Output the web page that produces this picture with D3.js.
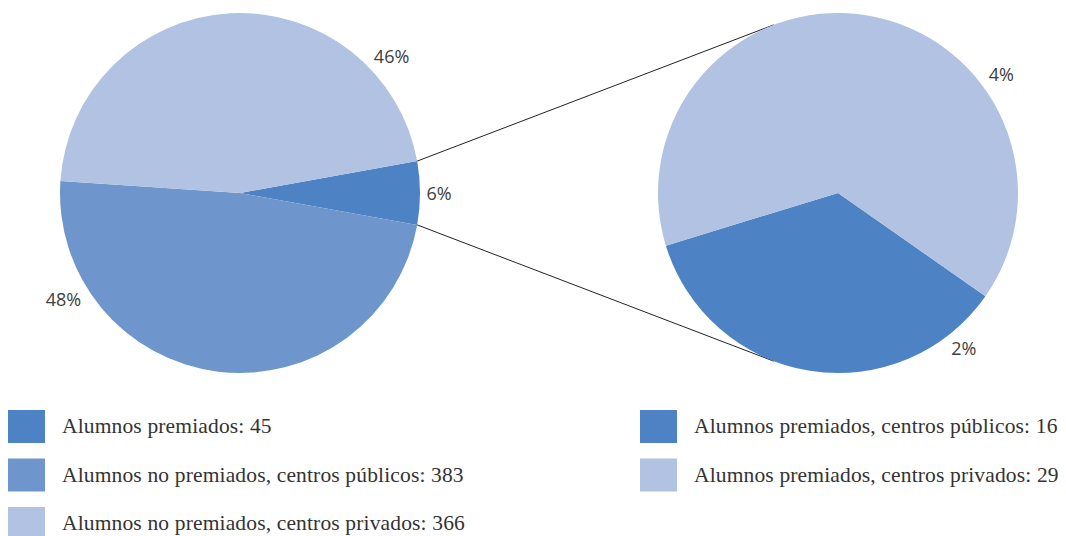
<!DOCTYPE html>
<html>
<head>
<meta charset="utf-8">
<script src="https://cdn.jsdelivr.net/npm/d3@7/dist/d3.min.js"></script>
<style>
  html, body { margin: 0; padding: 0; background: #fff; }
  svg { display: block; }
</style>
</head>
<body>
<svg id="chart" width="1066" height="536"></svg>
<script>
// Main pie: all students
const mainCategories = [
  "Alumnos premiados",
  "Alumnos no premiados, centros públicos",
  "Alumnos no premiados, centros privados"
];
const mainValues = [45, 383, 366];

// Secondary pie: breakdown of the awarded students
const subCategories = [
  "Alumnos premiados, centros públicos",
  "Alumnos premiados, centros privados"
];
const subValues = [16, 29];

const colors = {
  dark: "#4d83c4",
  mid: "#6e96cc",
  light: "#b1c2e3"
};
const mainColors = [colors.dark, colors.mid, colors.light];
const subColors = [colors.dark, colors.light];

// Label placement (angle in degrees clockwise from 12 o'clock, distance from centre)
const mainLabelPos = [[90, 199], [239, 206], [48, 204]];
const subLabelPos = [[141, 200], [54, 202]];

const svg = d3.select("#chart");
const R = 180;
const mainC = [240, 193];
const subC = [838, 193];
const total = d3.sum(mainValues);
const deg = Math.PI / 180;

// The awarded slice is centred on 3 o'clock
const mainStart = Math.PI / 2 - (mainValues[0] / total) * Math.PI;
const mainPie = d3.pie().sort(null).value(d => d)
  .startAngle(mainStart).endAngle(mainStart + 2 * Math.PI);
const subStart = 125 * deg;
const subPie = d3.pie().sort(null).value(d => d)
  .startAngle(subStart).endAngle(subStart + 2 * Math.PI);

const arc = d3.arc().innerRadius(0).outerRadius(R);
const mainArcs = mainPie(mainValues);
const subArcs = subPie(subValues);

// Connector lines: from the edges of the awarded slice, tangent to the second pie
function polar(c, a, r) { return [c[0] + r * Math.sin(a), c[1] - r * Math.cos(a)]; }
const edgeTop = polar(mainC, mainArcs[0].startAngle, R);
const edgeBot = polar(mainC, mainArcs[0].endAngle, R);
function tangent(p, sign) {
  const dx = p[0] - subC[0], dy = p[1] - subC[1];
  const d = Math.hypot(dx, dy);
  const base = Math.atan2(dy, dx);
  const t = base + sign * Math.acos(R / d);
  return [subC[0] + R * Math.cos(t), subC[1] + R * Math.sin(t)];
}
const lineTop = [edgeTop, tangent(edgeTop, 1)];
const lineBot = [edgeBot, tangent(edgeBot, -1)];
svg.append("g").selectAll("line").data([lineTop, lineBot]).join("line")
  .attr("x1", d => d[0][0]).attr("y1", d => d[0][1])
  .attr("x2", d => d[1][0]).attr("y2", d => d[1][1])
  .attr("stroke", "#222").attr("stroke-width", 1);

// Pies
svg.append("g").attr("transform", `translate(${mainC})`)
  .selectAll("path").data(mainArcs).join("path")
  .attr("d", arc).attr("fill", (d, i) => mainColors[i]);
svg.append("g").attr("transform", `translate(${subC})`)
  .selectAll("path").data(subArcs).join("path")
  .attr("d", arc).attr("fill", (d, i) => subColors[i]);

// Percentage labels
const pct = v => Math.round(v / total * 100) + "%";
function drawLabels(c, values, pos) {
  svg.append("g").selectAll("text").data(values).join("text")
    .attr("x", (d, i) => polar(c, pos[i][0] * deg, pos[i][1])[0])
    .attr("y", (d, i) => polar(c, pos[i][0] * deg, pos[i][1])[1])
    .attr("text-anchor", "middle").attr("dominant-baseline", "central")
    .attr("font-family", "'Open Sans', sans-serif").attr("font-size", 18)
    .attr("fill", "#404040")
    .text(d => pct(d));
}
drawLabels(mainC, mainValues, mainLabelPos);
drawLabels(subC, subValues, subLabelPos);

// Legends
function legend(x, items, values, cols) {
  const g = svg.append("g").attr("transform", `translate(${x},410)`);
  const row = g.selectAll("g").data(items).join("g")
    .attr("transform", (d, i) => `translate(0,${i * 48.5})`);
  row.append("rect").attr("width", 37).attr("height", 33)
    .attr("fill", (d, i) => cols[i]);
  row.append("text").attr("x", 54).attr("y", 23)
    .attr("font-family", "'Liberation Serif', serif").attr("font-size", 21.5)
    .attr("letter-spacing", 0.15)
    .attr("fill", "#333")
    .text((d, i) => `${d}: ${values[i]}`);
}
legend(8, mainCategories, mainValues, mainColors);
legend(640, subCategories, subValues, subColors);
</script>
</body>
</html>
